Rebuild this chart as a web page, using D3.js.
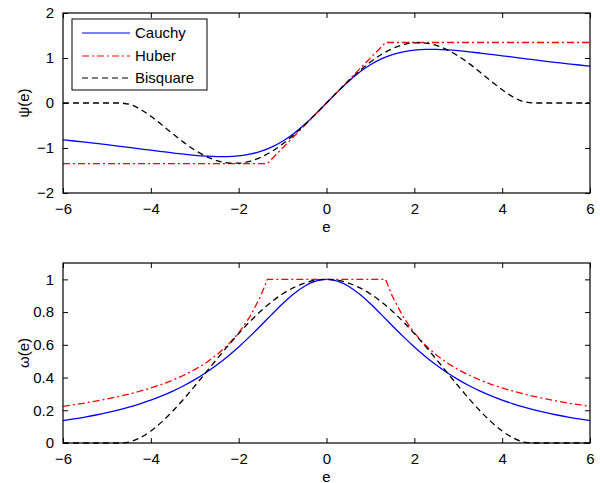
<!DOCTYPE html>
<html><head><meta charset="utf-8">
<script src="https://cdn.jsdelivr.net/npm/d3@7"></script>
<style>body{margin:0;background:#fff}svg{display:block}text{font-family:"Liberation Sans",Arial,sans-serif;font-size:15px;fill:#000}</style>
</head><body><svg id="c" width="600" height="483"></svg>
<script>
const eGrid = [-6,-5.75,-5.5,-5.25,-5,-4.75,-4.5,-4.25,-4,-3.75,-3.5,-3.25,-3,-2.75,-2.5,-2.25,-2,-1.75,-1.5,-1.25,-1,-0.75,-0.5,-0.25,0,0.25,0.5,0.75,1,1.25,1.5,1.75,2,2.25,2.5,2.75,3,3.25,3.5,3.75,4,4.25,4.5,4.75,5,5.25,5.5,5.75,6];
const cauchyPsi = [-0.8187,-0.8440,-0.8705,-0.8981,-0.9268,-0.9564,-0.9869,-1.0178,-1.0491,-1.0800,-1.1099,-1.1376,-1.1618,-1.1805,-1.1912,-1.1905,-1.1743,-1.1376,-1.0749,-0.9806,-0.8505,-0.6825,-0.4790,-0.2473,0,0.2473,0.4790,0.6825,0.8505,0.9806,1.0749,1.1376,1.1743,1.1905,1.1912,1.1805,1.1618,1.1376,1.1099,1.0800,1.0491,1.0178,0.9869,0.9564,0.9268,0.8981,0.8705,0.8440,0.8187];
const bisquarePsi = [0,0,0,0,0,0,-0.0270,-0.1333,-0.2939,-0.4842,-0.6834,-0.8747,-1.0442,-1.1815,-1.2790,-1.3318,-1.3375,-1.2957,-1.2082,-1.0784,-0.9110,-0.7121,-0.4887,-0.2486,0,0.2486,0.4887,0.7121,0.9110,1.0784,1.2082,1.2957,1.3375,1.3318,1.2790,1.1815,1.0442,0.8747,0.6834,0.4842,0.2939,0.1333,0.0270,0,0,0,0,0,0];
const huberPsiE = [-6,-1.345,1.345,6];
const huberPsi = [-1.345,-1.345,1.345,1.345];
const cauchyW = [0.1365,0.1468,0.1583,0.1711,0.1854,0.2014,0.2193,0.2395,0.2623,0.2880,0.3171,0.3500,0.3873,0.4293,0.4765,0.5291,0.5871,0.6500,0.7166,0.7845,0.8505,0.9100,0.9579,0.9891,1,0.9891,0.9579,0.9100,0.8505,0.7845,0.7166,0.6500,0.5871,0.5291,0.4765,0.4293,0.3873,0.3500,0.3171,0.2880,0.2623,0.2395,0.2193,0.2014,0.1854,0.1711,0.1583,0.1468,0.1365];
const bisquareW = [0,0,0,0,0,0,0.0060,0.0314,0.0735,0.1291,0.1953,0.2691,0.3481,0.4296,0.5116,0.5919,0.6687,0.7404,0.8055,0.8627,0.9110,0.9494,0.9774,0.9943,1,0.9943,0.9774,0.9494,0.9110,0.8627,0.8055,0.7404,0.6687,0.5919,0.5116,0.4296,0.3481,0.2691,0.1953,0.1291,0.0735,0.0314,0.0060,0,0,0,0,0,0];
const huberWE = [-6,-5.75,-5.5,-5.25,-5,-4.75,-4.5,-4.25,-4,-3.75,-3.5,-3.25,-3,-2.75,-2.5,-2.25,-2,-1.75,-1.5,-1.345,1.345,1.5,1.75,2,2.25,2.5,2.75,3,3.25,3.5,3.75,4,4.25,4.5,4.75,5,5.25,5.5,5.75,6];
const huberW = [0.2242,0.2339,0.2445,0.2562,0.2690,0.2832,0.2989,0.3165,0.3363,0.3587,0.3843,0.4138,0.4483,0.4891,0.5380,0.5978,0.6725,0.7686,0.8967,1,1,0.8967,0.7686,0.6725,0.5978,0.5380,0.4891,0.4483,0.4138,0.3843,0.3587,0.3363,0.3165,0.2989,0.2832,0.2690,0.2562,0.2445,0.2339,0.2242];
const xTicks = [-6,-4,-2,0,2,4,6];
const yTicksTop = [-2,-1,0,1,2];
const yTicksBot = [0,0.2,0.4,0.6,0.8,1];
const legendLabels = ["Cauchy","Huber","Bisquare"];

const svg = d3.select("#c");
const L = 63, R = 590;
const x = d3.scaleLinear().domain([-6,6]).range([L,R]);
const fmt = v => (v<0 ? "\u2212" : "") + Math.abs(v);

const styles = {
  Cauchy: {stroke:"#0000ff", dash:null},
  Huber: {stroke:"#ff0000", dash:"7,3,2,3"},
  Bisquare: {stroke:"#000000", dash:"6,4"}
};

function panel(top, bottom, ydom, yticks, ylab, series) {
  const y = d3.scaleLinear().domain(ydom).range([bottom, top]);
  const g = svg.append("g");
  const clipId = "clip" + top;
  svg.append("clipPath").attr("id", clipId).append("rect")
    .attr("x", L).attr("y", top-1).attr("width", R-L).attr("height", bottom-top+2);
  const ax = g.append("g").attr("transform", `translate(0,${bottom})`)
    .call(d3.axisBottom(x).tickValues(xTicks).tickSizeInner(-5).tickSizeOuter(0).tickPadding(10).tickFormat(fmt));
  const axT = g.append("g").attr("transform", `translate(0,${top})`)
    .call(d3.axisTop(x).tickValues(xTicks).tickSizeInner(-5).tickSizeOuter(0).tickFormat(""));
  const ay = g.append("g").attr("transform", `translate(${L},0)`)
    .call(d3.axisLeft(y).tickValues(yticks).tickSizeInner(-5).tickSizeOuter(0).tickPadding(9).tickFormat(fmt));
  const ayR = g.append("g").attr("transform", `translate(${R},0)`)
    .call(d3.axisRight(y).tickValues(yticks).tickSizeInner(-5).tickSizeOuter(0).tickFormat(""));
  [ax,axT,ay,ayR].forEach(a => { a.select(".domain").remove(); a.selectAll("line").attr("stroke","#000"); a.selectAll("text").attr("font-size",15).attr("font-family","'Liberation Sans',Arial,sans-serif").attr("fill","#000"); });
  ax.selectAll("text").attr("dy","0.71em");
  const lg = g.append("g").attr("clip-path", `url(#${clipId})`);
  series.forEach(s => {
    const line = d3.line().x(d => x(d[0])).y(d => y(d[1])).curve(s.curve);
    lg.append("path").datum(s.xs.map((v,i)=>[v,s.ys[i]]))
      .attr("d", line).attr("fill","none")
      .attr("stroke", styles[s.name].stroke).attr("stroke-width",1.3)
      .attr("stroke-dasharray", styles[s.name].dash);
  });
  g.append("rect").attr("x",L).attr("y",top).attr("width",R-L).attr("height",bottom-top)
    .attr("fill","none").attr("stroke","#000").attr("stroke-width",1.2);
  g.append("text").attr("x",(L+R)/2).attr("y",bottom+39).attr("text-anchor","middle").text("e");
  g.append("text").attr("transform",`translate(29,${(top+bottom)/2}) rotate(-90)`).attr("text-anchor","middle").text(ylab);
  return y;
}

panel(13, 193, [-2,2], yTicksTop, "\u03c8(e)", [
  {name:"Cauchy", xs:eGrid, ys:cauchyPsi, curve:d3.curveMonotoneX},
  {name:"Huber", xs:huberPsiE, ys:huberPsi, curve:d3.curveLinear},
  {name:"Bisquare", xs:eGrid, ys:bisquarePsi, curve:d3.curveMonotoneX}
]);
panel(263, 443, [0,1.1], yTicksBot, "\u03c9(e)", [
  {name:"Cauchy", xs:eGrid, ys:cauchyW, curve:d3.curveMonotoneX},
  {name:"Huber", xs:huberWE, ys:huberW, curve:d3.curveLinear},
  {name:"Bisquare", xs:eGrid, ys:bisquareW, curve:d3.curveMonotoneX}
]);

const lgd = svg.append("g");
lgd.append("rect").attr("x",72).attr("y",19).attr("width",135).attr("height",71)
  .attr("fill","#fff").attr("stroke","#000").attr("stroke-width",1);
legendLabels.forEach((n,i) => {
  const yy = 33 + Math.round(i*22.5);
  lgd.append("line").attr("x1",82).attr("x2",130).attr("y1",yy).attr("y2",yy)
    .attr("stroke",styles[n].stroke).attr("stroke-width",1.2).attr("stroke-dasharray",styles[n].dash);
  lgd.append("text").attr("x",135).attr("y",yy).attr("dy","0.35em").attr("font-size",16).text(n);
});
</script></body></html>
